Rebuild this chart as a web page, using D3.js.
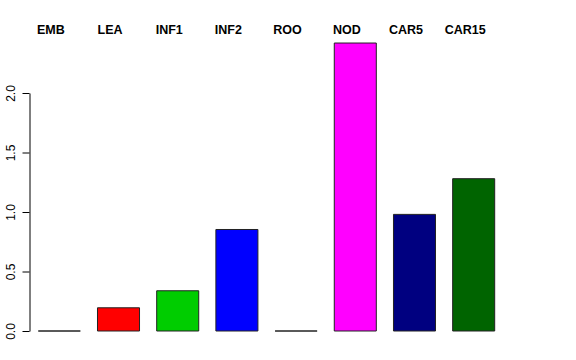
<!DOCTYPE html>
<html>
<head>
<meta charset="utf-8">
<script src="https://cdn.jsdelivr.net/npm/d3@7"></script>
<style>
  html, body { margin: 0; padding: 0; background: #fff; }
  svg { display: block; }
  text { font-family: "Liberation Sans", Arial, Helvetica, sans-serif; }
</style>
</head>
<body>
<svg id="chart" width="576" height="360"></svg>
<script>
const categories = ["EMB", "LEA", "INF1", "INF2", "ROO", "NOD", "CAR5", "CAR15"];
const values = [0, 0.195, 0.338, 0.853, 0, 2.42, 0.98, 1.28];
const colors = ["#000000", "#FF0000", "#00CD00", "#0000FF", "#00FFFF", "#FF00FF", "#000080", "#006400"];
const yTicks = [0, 0.5, 1, 1.5, 2];

const svg = d3.select("#chart");

const x = d3.scaleBand()
  .domain(categories)
  .range([38.3, 494.7])
  .paddingInner(0.29)
  .paddingOuter(0);

const y = d3.scaleLinear()
  .domain([0, 2])
  .range([331, 93]);

// bars (paths so that zero-height bars still show their outline)
svg.append("g")
  .selectAll("path")
  .data(categories)
  .join("path")
  .attr("d", (c, i) => {
    const x0 = x(c), w = x.bandwidth();
    const y0 = y(0), y1 = y(values[i]);
    return `M${x0},${y0}H${x0 + w}V${y1}H${x0}Z`;
  })
  .attr("fill", (c, i) => colors[i])
  .attr("stroke", "#222")
  .attr("stroke-width", 1);

// y axis
const yAxis = d3.axisLeft(y)
  .tickValues(yTicks)
  .tickFormat(d3.format(".1f"))
  .tickSize(7)
  .tickSizeOuter(0);

const ga = svg.append("g")
  .attr("transform", "translate(29.5,0)")
  .call(yAxis);
ga.select(".domain").attr("stroke", "#000");
ga.selectAll(".tick line").attr("stroke", "#000");
ga.selectAll(".tick text")
  .attr("font-size", 12)
  .attr("font-family", "Liberation Sans, Arial, sans-serif")
  .attr("fill", "#000")
  .attr("text-anchor", "middle")
  .attr("x", 0)
  .attr("dy", 0)
  .attr("transform", "translate(-19,0) rotate(-90)")
  .attr("dominant-baseline", "central");

// category labels on top
svg.append("g")
  .selectAll("text")
  .data(categories)
  .join("text")
  .attr("x", c => x(c) + x.bandwidth() / 2 - 8.5)
  .attr("y", 33.5)
  .attr("text-anchor", "middle")
  .attr("font-weight", "bold")
  .attr("font-size", 12.5)
  .attr("fill", "#000")
  .text(c => c);
</script>
</body>
</html>
